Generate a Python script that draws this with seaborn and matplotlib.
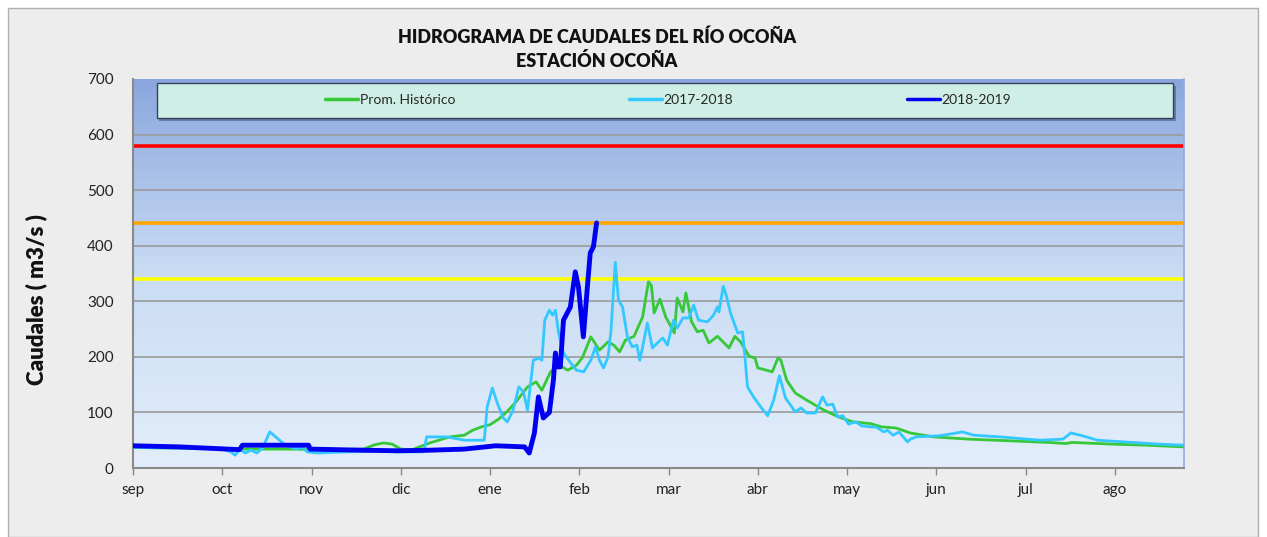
import numpy as np
import pandas as pd
import seaborn as sns
import matplotlib.pyplot as plt
from matplotlib.patches import Rectangle
from matplotlib.colors import LinearSegmentedColormap

# x axis: day of the hydrological year (sep -> ago), ticks every 31 days
month_labels = ['sep', 'oct', 'nov', 'dic', 'ene', 'feb', 'mar', 'abr', 'may', 'jun', 'jul', 'ago']
month_ticks = [31 * i for i in range(len(month_labels))]

# Prom. Histórico
green_day = [0, 12, 25, 40, 55, 70, 80, 84, 87, 90,
             93, 97, 103, 110, 115, 118, 121, 124, 127, 130,
             133, 137, 140, 142, 145, 148, 151, 154, 156, 159,
             162, 165, 167, 169, 171, 174, 177, 179, 180, 181,
             183, 185, 188, 189, 191, 192, 194, 196, 198, 200,
             203, 207, 209, 211, 214, 216, 217, 220, 222, 224,
             225, 227, 230, 234, 240, 245, 250, 256, 260, 265,
             270, 278, 290, 304, 318, 324, 326, 340, 352, 365]
green_val = [37, 36, 35, 34, 34, 33, 34, 42, 45, 43,
             34, 33, 45, 56, 59, 68, 74, 78, 88, 102,
             119, 146, 155, 140, 173, 185, 176, 185, 198, 236,
             212, 227, 221, 209, 230, 237, 272, 335, 329, 279,
             304, 272, 243, 306, 281, 315, 263, 245, 248, 225,
             237, 216, 237, 227, 201, 198, 180, 176, 173, 198,
             194, 158, 135, 122, 104, 92, 83, 80, 74, 72,
             63, 56, 52, 49, 46, 44, 46, 43, 41, 38]

# 2017-2018
cyan_day = [0, 15, 30, 34, 35.5, 37, 39, 41, 43, 45,
            47.5, 50, 52, 54.5, 57, 58.5, 60.5, 64, 74, 85,
            92, 101, 102, 109, 115, 122, 123, 124.8, 126.5, 128.6,
            130, 132, 134, 135.6, 137, 139, 141, 142, 143, 144.6,
            145.7, 146.7, 147.8, 149.5, 152, 154, 156.5, 159, 160.6, 162,
            163.4, 165, 166, 167.5, 168.6, 170, 171.7, 173.4, 175, 176,
            177, 178.6, 180.4, 182.5, 184, 185.6, 187.7, 189, 191, 193,
            194.7, 196.4, 199.5, 201.6, 203, 203.5, 205, 206, 207.5, 210,
            211.7, 212.7, 213.4, 215.5, 218, 220.4, 222.5, 224.5, 226.6, 230,
            232, 234, 237, 239.5, 241, 243, 244.7, 246.5, 248.5, 251,
            253, 256, 258, 260.7, 262, 264, 266, 269, 270, 272,
            280, 286, 288, 292, 301, 315, 323, 325.7, 329, 335,
            344, 356, 365]
cyan_val = [37, 36, 35, 29, 23, 34, 27, 32, 27, 36,
            65, 54, 45, 38, 34, 38, 29, 27, 29, 30,
            29, 29, 56, 56, 50, 50, 110, 144, 117, 90,
            83, 104, 146, 137, 104, 194, 198, 194, 266, 284,
            275, 284, 243, 207, 189, 176, 173, 194, 218, 194,
            180, 200, 248, 370, 302, 290, 236, 218, 221, 194,
            218, 261, 216, 227, 234, 221, 266, 252, 270, 270,
            293, 266, 263, 275, 290, 281, 327, 311, 279, 243,
            245, 189, 146, 128, 110, 94, 122, 166, 126, 101,
            108, 99, 99, 128, 113, 115, 92, 94, 79, 83,
            76, 74, 74, 65, 68, 59, 65, 47, 52, 56,
            58, 63, 65, 59, 56, 50, 52, 63, 59, 50,
            47, 43, 41]

# 2018-2019
blue_day = [0, 16, 33, 37, 38, 48, 61, 61.5, 80, 92,
            103, 115, 126, 136, 137.6, 139.4, 140.8, 142.5, 144.6, 146,
            146.7, 147.4, 148.4, 149.5, 151.9, 153.6, 154.7, 156.4, 157.8, 158.8,
            159.9, 161]
blue_val = [40, 38, 34, 33, 41, 41, 41, 34, 32, 31,
            32, 34, 40, 38, 27, 63, 128, 90, 100, 158,
            207, 182, 182, 266, 290, 353, 326, 236, 326, 387,
            398, 441]

# alert thresholds
thresholds = [340, 440, 580]
threshold_colors = ['#ffff00', '#ffa500', '#ff0000']

sns.set_style('white')
plt.rcParams['font.family'] = ['Lato', 'DejaVu Sans']

fig = plt.figure(figsize=(12.67, 5.37), dpi=100, facecolor='white')
panel = Rectangle((8 / 1267, 0), 1250 / 1267, 529 / 537, transform=fig.transFigure,
                  facecolor='#ededed', edgecolor='#b0b0b0', lw=1, zorder=-10)
fig.add_artist(panel)
ax = fig.add_axes([133 / 1267, 69 / 537, 1051 / 1267, 389 / 537])

# background gradient
cmap = LinearSegmentedColormap.from_list('bg', ['#e3eefb', '#c9dcf4', '#8aa6dd'])
grad = np.linspace(0, 1, 256).reshape(-1, 1)
ax.imshow(grad, extent=[0, 365, 0, 700], origin='lower', aspect='auto', cmap=cmap, zorder=0)

for yv in range(100, 700, 100):
    ax.axhline(yv, color='#9a9a9a', lw=1.2, zorder=1)
for th, c in zip(thresholds, threshold_colors):
    ax.axhline(th, color=c, lw=2.6, zorder=2)

sns.lineplot(x=green_day, y=green_val, ax=ax, color='#36c836', lw=2.0, label='Prom. Histórico', zorder=3)
sns.lineplot(x=cyan_day, y=cyan_val, ax=ax, color='#33c8ff', lw=2.0, label='2017-2018', zorder=4)
sns.lineplot(x=blue_day, y=blue_val, ax=ax, color='#0000f0', lw=3.5, label='2018-2019', zorder=5)

ax.set_xlim(0, 365)
ax.set_ylim(0, 700)
ax.set_xticks(month_ticks)
ax.set_xticklabels(month_labels, fontsize=11, color='#222222')
ax.set_yticks(range(0, 701, 100))
ax.set_yticklabels([str(v) for v in range(0, 701, 100)], fontsize=11, color='#222222')
ax.tick_params(axis='x', length=5, color='#888888', width=1, pad=6, direction='out', bottom=True)
ax.tick_params(axis='y', length=0, pad=14)
ax.set_xlabel('')
ax.set_ylabel('')
for s in ['left', 'bottom']:
    ax.spines[s].set_color('#8a8a8a')
    ax.spines[s].set_linewidth(1.5)
ax.spines['top'].set_visible(False)
ax.spines['right'].set_color('#8fb0e0')
ax.spines['right'].set_linewidth(1.2)

# legend box
ax.add_patch(Rectangle((0.025, 0.893), 0.967, 0.09, transform=ax.transAxes,
                       facecolor='#4a5a7a', edgecolor='none', alpha=0.6, zorder=6))
ax.add_patch(Rectangle((0.023, 0.9), 0.967, 0.09, transform=ax.transAxes,
                       facecolor='#cfeee5', edgecolor='#33415c', lw=1, zorder=7))
leg = ax.legend(loc='center', bbox_to_anchor=(0.509, 0.946), ncol=3, frameon=False,
                fontsize=10, handlelength=2.4, handletextpad=0.1, columnspacing=12.5)
leg.set_zorder(8)
for line in leg.get_lines():
    line.set_linewidth(2.5)

fig.text(597 / 1267, 1 - 37 / 537, 'HIDROGRAMA DE CAUDALES DEL RÍO OCOÑA', ha='center', va='center',
         fontsize=13, fontweight='heavy', color='#111111')
fig.text(597 / 1267, 1 - 61 / 537, 'ESTACIÓN OCOÑA', ha='center', va='center',
         fontsize=13, fontweight='heavy', color='#111111')
fig.text(36 / 1267, 1 - 300 / 537, 'Caudales ( m3/s )', rotation=90, ha='center', va='center',
         fontsize=16, fontweight='heavy', color='#111111')

fig.savefig('out.png', dpi=100, facecolor=fig.get_facecolor())
